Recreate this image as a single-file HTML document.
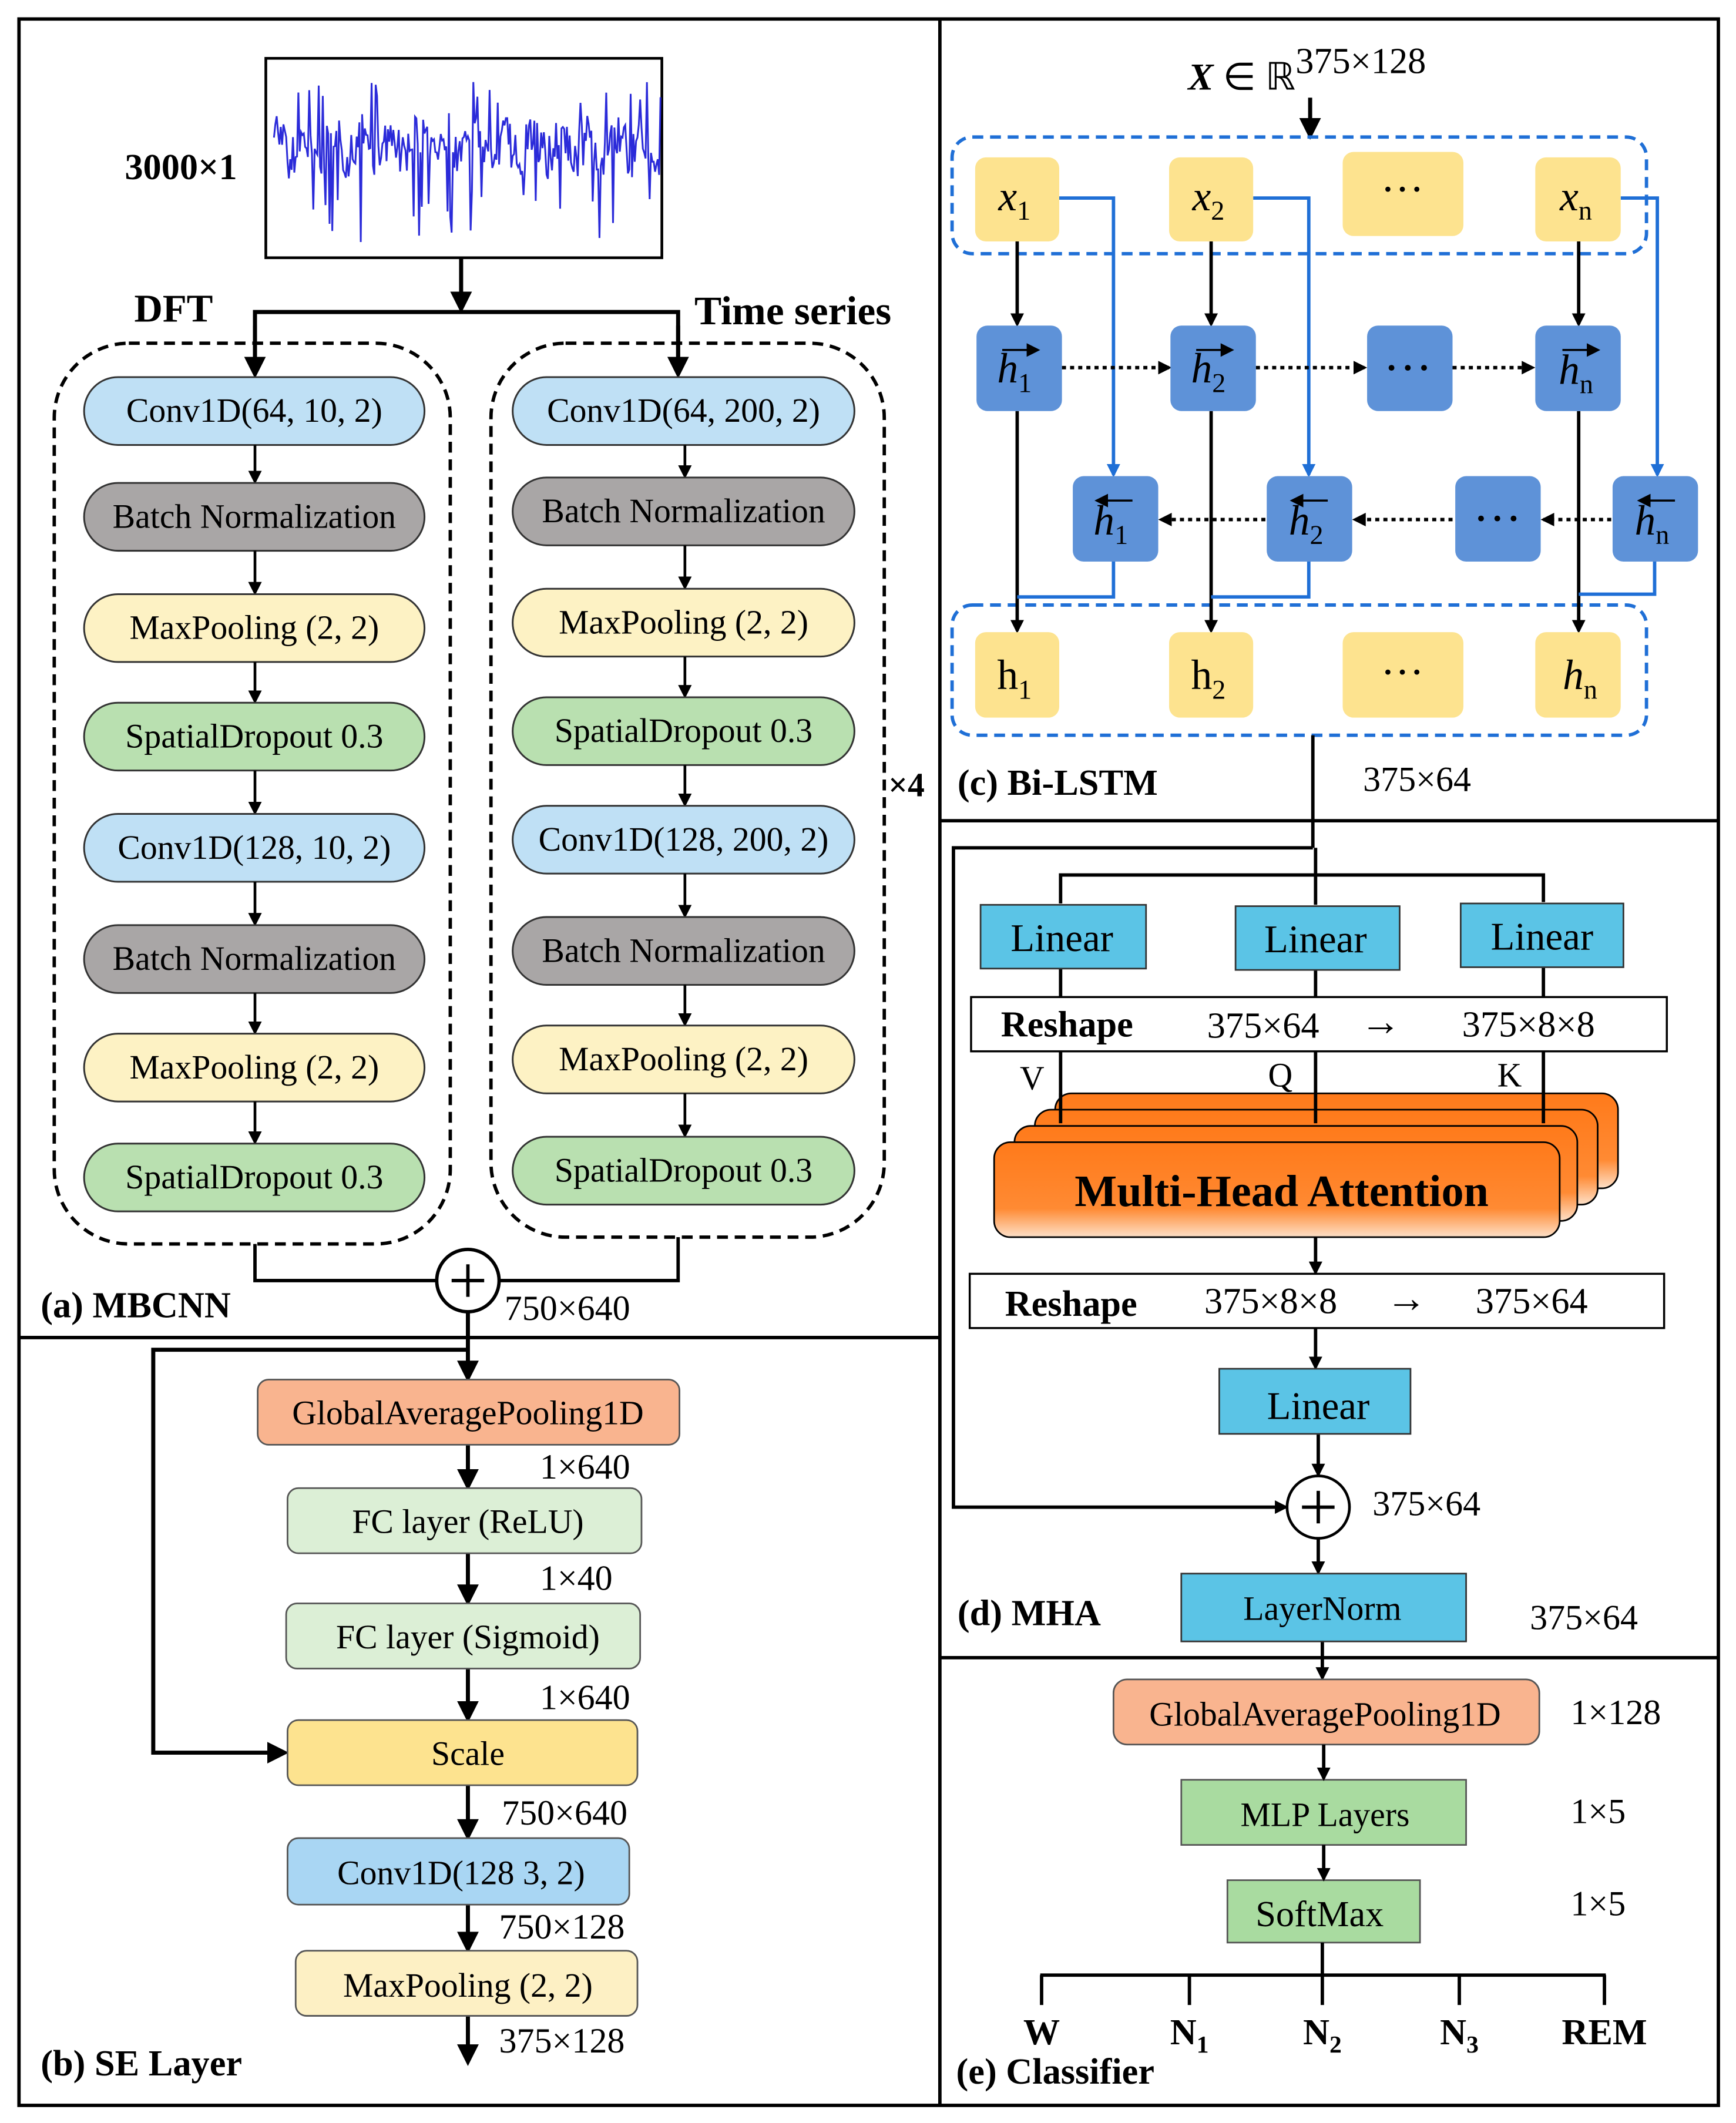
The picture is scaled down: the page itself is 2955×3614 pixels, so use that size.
<!DOCTYPE html>
<html><head><meta charset="utf-8"><style>
html,body{margin:0;padding:0;background:#fff;}
svg{display:block;}
text{font-family:"Liberation Serif",serif;}
</style></head><body>
<svg id="s" width="2955" height="3614" viewBox="0 0 1280 1565" preserveAspectRatio="none" xmlns="http://www.w3.org/2000/svg">
<defs>
<marker id="a" markerWidth="10" markerHeight="10" refX="8" refY="5" orient="auto" markerUnits="userSpaceOnUse"><path d="M0,0 L10,5 L0,10 z" fill="#000"/></marker>
<marker id="ab" markerWidth="10" markerHeight="10" refX="8" refY="5" orient="auto" markerUnits="userSpaceOnUse"><path d="M0,0 L10,5 L0,10 z" fill="#1f6fd6"/></marker>
<marker id="aL" markerWidth="16" markerHeight="16" refX="13" refY="8" orient="auto" markerUnits="userSpaceOnUse"><path d="M0,0 L16,8 L0,16 z" fill="#000"/></marker>
<linearGradient id="og" x1="0" y1="0" x2="0" y2="1"><stop offset="0" stop-color="#ff7a1a"/><stop offset="0.7" stop-color="#ff8a33"/><stop offset="1" stop-color="#fde0c8"/></linearGradient>
</defs>
<rect x="0" y="0" width="1280" height="1565" fill="#fff"/>
<g fill="none" stroke="#000" stroke-width="2.5">
<rect x="14" y="14" width="1253" height="1538"/>
<line x1="693" y1="14" x2="693" y2="1552"/>
<line x1="14" y1="986" x2="693" y2="986"/>
<line x1="693" y1="605" x2="1267" y2="605"/>
<line x1="693" y1="1222" x2="1267" y2="1222"/>
</g>

<!-- Panel a -->
<rect x="196" y="43" width="292" height="147" fill="#fff" stroke="#000" stroke-width="2"/>
<polyline id="sig" fill="none" stroke="#2b2bd9" stroke-width="1.3" points=""/>
<text x="92" y="132" font-size="27" font-weight="bold">3000×1</text>
<text x="99" y="237" font-size="29" font-weight="bold">DFT</text>
<text x="512" y="239" font-size="30" font-weight="bold">Time series</text>
<g stroke="#000" stroke-width="3" fill="none">
<line x1="340" y1="190" x2="340" y2="228" marker-end="url(#aL)"/>
<polyline points="188,275 188,230 500,230 500,275"/>
<line x1="188" y1="240" x2="188" y2="276" marker-end="url(#aL)"/>
<line x1="500" y1="240" x2="500" y2="276" marker-end="url(#aL)"/>
</g>
<rect x="40" y="253" width="292" height="664" rx="55" fill="none" stroke="#000" stroke-width="2.5" stroke-dasharray="8,5"/>
<rect x="362" y="253" width="290" height="659" rx="55" fill="none" stroke="#000" stroke-width="2.5" stroke-dasharray="8,5"/>
<g id="boxesA" font-size="25" text-anchor="middle"></g>
<text x="655" y="587" font-size="25" font-weight="bold">×4</text>
<g stroke="#000" stroke-width="2.5" fill="none">
<polyline points="188,917 188,944 322,944"/>
<polyline points="500,912 500,944 368,944"/>
<circle cx="345" cy="944" r="23" fill="#fff"/>
<line x1="333" y1="944" x2="357" y2="944"/><line x1="345" y1="932" x2="345" y2="956"/>
</g>
<text x="372" y="973" font-size="26">750×640</text>
<text x="30" y="971" font-size="27" font-weight="bold">(a) MBCNN</text>

<!-- Panel b -->
<g stroke="#000" stroke-width="3" fill="none">
<line x1="345" y1="967" x2="345" y2="1016" marker-end="url(#aL)"/>
<polyline points="345,995 113,995 113,1292 210,1292" marker-end="url(#aL)"/>
<line x1="345" y1="1065" x2="345" y2="1096" marker-end="url(#aL)"/>
<line x1="345" y1="1145" x2="345" y2="1181" marker-end="url(#aL)"/>
<line x1="345" y1="1230" x2="345" y2="1267" marker-end="url(#aL)"/>
<line x1="345" y1="1316" x2="345" y2="1354" marker-end="url(#aL)"/>
<line x1="345" y1="1404" x2="345" y2="1437" marker-end="url(#aL)"/>
<line x1="345" y1="1486" x2="345" y2="1520" marker-end="url(#aL)"/>
</g>
<g stroke="#555" stroke-width="1.2">
<rect x="190" y="1017" width="311" height="48" rx="8" fill="#f9b48f"/>
<rect x="212" y="1097" width="261" height="48" rx="8" fill="#dcefd6"/>
<rect x="211" y="1182" width="261" height="48" rx="8" fill="#dcefd6"/>
<rect x="212" y="1268" width="258" height="48" rx="8" fill="#fde38f"/>
<rect x="212" y="1355" width="252" height="49" rx="8" fill="#a9d6f3"/>
<rect x="218" y="1438" width="252" height="48" rx="8" fill="#fdf0c4"/>
</g>
<g font-size="25" text-anchor="middle">
<text x="345" y="1050">GlobalAveragePooling1D</text>
<text x="345" y="1130">FC layer (ReLU)</text>
<text x="345" y="1215">FC layer (Sigmoid)</text>
<text x="345" y="1301">Scale</text>
<text x="340" y="1389">Conv1D(128 3, 2)</text>
<text x="345" y="1472">MaxPooling (2, 2)</text>
</g>
<g font-size="26">
<text x="398" y="1090">1×640</text><text x="398" y="1172">1×40</text><text x="398" y="1260">1×640</text>
<text x="370" y="1345">750×640</text><text x="368" y="1429">750×128</text><text x="368" y="1513">375×128</text>
</g>
<text x="30" y="1530" font-size="27" font-weight="bold">(b) SE Layer</text>

<!-- Panel c -->
<text x="876" y="66" font-size="28"><tspan font-weight="bold" font-style="italic">X</tspan> ∈ ℝ<tspan dy="-12" font-size="27">375×128</tspan></text>
<line x1="966" y1="72" x2="966" y2="100" stroke="#000" stroke-width="3" marker-end="url(#aL)"/>
<rect x="702" y="101" width="512" height="86" rx="15" fill="none" stroke="#1f6fd6" stroke-width="2.5" stroke-dasharray="8,5"/>
<rect x="702" y="446" width="512" height="96" rx="15" fill="none" stroke="#1f6fd6" stroke-width="2.5" stroke-dasharray="8,5"/>
<g id="lstm"></g>
<line x1="968" y1="542" x2="968" y2="625" stroke="#000" stroke-width="2.5"/>
<text x="706" y="586" font-size="27" font-weight="bold">(c) Bi-LSTM</text>
<text x="1005" y="583" font-size="26">375×64</text>

<!-- Panel d -->
<g stroke="#000" stroke-width="2.5" fill="none">
<polyline points="968,625 703,625 703,1111 948,1111" marker-end="url(#a)"/>
<polyline points="782,666 782,645 1138,645 1138,665"/>
<line x1="970" y1="625" x2="970" y2="667"/>
<line x1="782" y1="714" x2="782" y2="828" marker-end="url(#a)"/>
<line x1="970" y1="715" x2="970" y2="828" marker-end="url(#a)"/>
<line x1="1138" y1="713" x2="1138" y2="828" marker-end="url(#a)"/>
</g>
<g stroke="#333" stroke-width="1.2">
<rect x="723" y="667" width="122" height="47" fill="#5bc4e6"/>
<rect x="911" y="668" width="121" height="47" fill="#5bc4e6"/>
<rect x="1077" y="666" width="120" height="47" fill="#5bc4e6"/>
</g>
<g font-size="29" text-anchor="middle"><text x="783" y="701">Linear</text><text x="970" y="702">Linear</text><text x="1137" y="700">Linear</text></g>
<rect x="716" y="735" width="513" height="40" fill="#fff" stroke="#000" stroke-width="1.5"/>
<text x="738" y="764" font-size="27" font-weight="bold">Reshape</text>
<text x="890" y="765" font-size="27">375×64</text><text x="1003" y="763" font-size="30">→</text><text x="1078" y="764" font-size="27">375×8×8</text>
<text x="752" y="803" font-size="25">V</text><text x="935" y="801" font-size="25">Q</text><text x="1104" y="801" font-size="25">K</text>
<g stroke="#000" stroke-width="1.2" fill="url(#og)">
<rect x="778" y="806" width="415" height="70" rx="12"/>
<rect x="763" y="818" width="415" height="70" rx="12"/>
<rect x="748" y="830" width="415" height="70" rx="12"/>
<rect x="733" y="842" width="417" height="70" rx="12"/>
</g>
<g stroke="#000" stroke-width="2.5"><line x1="782" y1="806" x2="782" y2="828"/><line x1="970" y1="806" x2="970" y2="828"/><line x1="1138" y1="806" x2="1138" y2="828"/></g>
<text x="945" y="889" font-size="33" font-weight="bold" text-anchor="middle">Multi-Head Attention</text>
<g stroke="#000" stroke-width="2.5" fill="none">
<line x1="970" y1="912" x2="970" y2="938" marker-end="url(#a)"/>
<line x1="970" y1="979" x2="970" y2="1008" marker-end="url(#a)"/>
<line x1="972" y1="1057" x2="972" y2="1087" marker-end="url(#a)"/>
<line x1="972" y1="1134" x2="972" y2="1159" marker-end="url(#a)"/>
<line x1="975" y1="1210" x2="975" y2="1237" marker-end="url(#a)"/>
</g>
<rect x="715" y="939" width="512" height="40" fill="#fff" stroke="#000" stroke-width="1.5"/>
<text x="741" y="970" font-size="27" font-weight="bold">Reshape</text>
<text x="888" y="968" font-size="27">375×8×8</text><text x="1022" y="967" font-size="30">→</text><text x="1088" y="968" font-size="27">375×64</text>
<rect x="899" y="1009" width="141" height="48" fill="#5bc4e6" stroke="#333" stroke-width="1.2"/>
<text x="972" y="1046" font-size="29" text-anchor="middle">Linear</text>
<circle cx="972" cy="1111" r="23" fill="#fff" stroke="#000" stroke-width="2"/>
<g stroke="#000" stroke-width="2.5"><line x1="960" y1="1111" x2="984" y2="1111"/><line x1="972" y1="1099" x2="972" y2="1123"/></g>
<text x="1012" y="1117" font-size="26">375×64</text>
<rect x="871" y="1160" width="210" height="50" fill="#5bc4e6" stroke="#333" stroke-width="1.2"/>
<text x="975" y="1194" font-size="25" text-anchor="middle">LayerNorm</text>
<text x="706" y="1198" font-size="27" font-weight="bold">(d) MHA</text>
<text x="1128" y="1201" font-size="26">375×64</text>

<!-- Panel e -->
<g stroke="#555" stroke-width="1.2">
<rect x="821" y="1238" width="314" height="48" rx="10" fill="#f9b48f"/>
<rect x="871" y="1312" width="210" height="48" fill="#a9dba0"/>
<rect x="905" y="1386" width="142" height="46" fill="#a9dba0"/>
</g>
<g font-size="25" text-anchor="middle">
<text x="977" y="1272">GlobalAveragePooling1D</text>
<text x="977" y="1346">MLP Layers</text>
<text x="973" y="1420" font-size="27">SoftMax</text>
</g>
<g stroke="#000" stroke-width="2.5" fill="none">
<line x1="976" y1="1286" x2="976" y2="1311" marker-end="url(#a)"/>
<line x1="976" y1="1360" x2="976" y2="1385" marker-end="url(#a)"/>
<line x1="975" y1="1432" x2="975" y2="1478"/>
<line x1="767" y1="1456" x2="1184" y2="1456"/>
<line x1="768" y1="1456" x2="768" y2="1478"/><line x1="877" y1="1456" x2="877" y2="1478"/>
<line x1="1076" y1="1456" x2="1076" y2="1478"/><line x1="1183" y1="1456" x2="1183" y2="1478"/>
</g>
<g font-size="26"><text x="1158" y="1271">1×128</text><text x="1158" y="1344">1×5</text><text x="1158" y="1412">1×5</text></g>
<g font-size="27" font-weight="bold" text-anchor="middle">
<text x="768" y="1507">W</text>
<text x="877" y="1507">N<tspan font-size="18" dy="6">1</tspan></text>
<text x="975" y="1507">N<tspan font-size="18" dy="6">2</tspan></text>
<text x="1076" y="1507">N<tspan font-size="18" dy="6">3</tspan></text>
<text x="1183" y="1507">REM</text>
</g>
<text x="705" y="1536" font-size="27" font-weight="bold">(e) Classifier</text>
</svg>
<script>
var NS="http://www.w3.org/2000/svg";
function el(p,t,a,txt){var e=document.createElementNS(NS,t);for(var k in a)e.setAttribute(k,a[k]);if(txt!=null)e.textContent=txt;p.appendChild(e);return e;}
var pts=[],seed=7;function rnd(){seed=(seed*9301+49297)%233280;return seed/233280;}
for(var x=202;x<=487;x+=1.0){var y=108+(rnd()-0.5)*34+Math.sin(x*0.3)*8;if(rnd()<0.07)y=140+rnd()*40;if(rnd()<0.05)y=60+rnd()*20;pts.push(x.toFixed(1)+","+y.toFixed(1));}
document.getElementById("sig").setAttribute("points",pts.join(" "));
var g=document.getElementById("boxesA");
var col={c:"#bfe0f5",b:"#a9a6a6",m:"#fdf2c4",s:"#b9e0b0"};
var L=[["c",278,"Conv1D(64, 10, 2)"],["b",356,"Batch Normalization"],["m",438,"MaxPooling (2, 2)"],["s",518,"SpatialDropout 0.3"],["c",600,"Conv1D(128, 10, 2)"],["b",682,"Batch Normalization"],["m",762,"MaxPooling (2, 2)"],["s",843,"SpatialDropout 0.3"]];
var R=[["c",278,"Conv1D(64, 200, 2)"],["b",352,"Batch Normalization"],["m",434,"MaxPooling (2, 2)"],["s",514,"SpatialDropout 0.3"],["c",594,"Conv1D(128, 200, 2)"],["b",676,"Batch Normalization"],["m",756,"MaxPooling (2, 2)"],["s",838,"SpatialDropout 0.3"]];
function col2(list,x,w,cx){for(var i=0;i<list.length;i++){var b=list[i];el(g,"rect",{x:x,y:b[1],width:w,height:50,rx:25,fill:col[b[0]],stroke:"#333","stroke-width":1.3});el(g,"text",{x:x+w/2,y:b[1]+33},b[2]);
if(i<list.length-1){el(g,"line",{x1:cx,y1:b[1]+50,x2:cx,y2:list[i+1][1]-1,stroke:"#000","stroke-width":2,"marker-end":"url(#a)"});}}}
col2(L,62,251,188);col2(R,378,252,505);
var l=document.getElementById("lstm");
function box(x,y,w,h,f){el(l,"rect",{x:x,y:y,width:w,height:h,rx:8,fill:f});}
function line(a,m,c){var p={points:a,fill:"none",stroke:c||"#000","stroke-width":2.5};if(m)p["marker-end"]=m;el(l,"polyline",p);}
function dline(x1,x2,y){el(l,"line",{x1:x1,y1:y,x2:x2,y2:y,stroke:"#000","stroke-width":2.5,"stroke-dasharray":"3,3","marker-end":"url(#a)"});}
var Y="#fde38f",B="#5e92d8";
var xs=[750,893,1164];
for(var i=0;i<3;i++){line(xs[i]+",178 "+xs[i]+",239","url(#a)");line(xs[i]+",303 "+xs[i]+",465","url(#a)");}
line("781,146 821,146 821,350","url(#ab)","#1f6fd6");line("924,146 965,146 965,350","url(#ab)","#1f6fd6");line("1195,146 1222,146 1222,350","url(#ab)","#1f6fd6");
line("821,414 821,440 750,440","","#1f6fd6");line("965,414 965,440 893,440","","#1f6fd6");line("1220,414 1220,438 1164,438","","#1f6fd6");
dline(783,862,271);dline(926,1006,271);dline(1071,1130,271);
dline(933,856,383);dline(1071,999,383);dline(1188,1138,383);
box(719,116,62,62,Y);box(862,116,62,62,Y);box(990,112,89,62,Y);box(1132,116,63,62,Y);
box(720,240,63,63,B);box(863,240,63,63,B);box(1008,240,63,63,B);box(1132,240,63,63,B);
box(791,351,63,63,B);box(934,351,63,63,B);box(1073,351,63,63,B);box(1189,351,63,63,B);
box(719,466,62,63,Y);box(862,466,62,63,Y);box(990,466,89,63,Y);box(1132,466,63,63,Y);
function t(x,y,s,sub,fs,it){var e=el(l,"text",{x:x,y:y,"font-size":fs||30,"text-anchor":"middle","font-style":it?"italic":"normal"});var a=document.createElementNS(NS,"tspan");a.textContent=s;e.appendChild(a);if(sub){var b=document.createElementNS(NS,"tspan");b.setAttribute("font-size","20");b.setAttribute("dy","7");b.setAttribute("font-style","normal");b.textContent=sub;e.appendChild(b);}}
t(748,155,"x","1",31,1);t(891,155,"x","2",31,1);t(1034,150,"···","",32);t(1162,155,"x","n",31,1);
t(748,282,"h","1",31,1);t(891,282,"h","2",31,1);t(1038,283,"···","",36);t(1162,283,"h","n",31,1);
t(819,394,"h","1",31,1);t(963,394,"h","2",31,1);t(1104,394,"···","",36);t(1218,394,"h","n",31,1);
t(748,508,"h","1",31,0);t(891,508,"h","2",31,0);t(1034,506,"···","",32);t(1165,508,"h","n",31,1);
function ov(x,y,dir){var x1=x-13,x2=x+13;el(l,"line",{x1:dir>0?x1:x2,y1:y,x2:dir>0?x2:x1,y2:y,stroke:"#000","stroke-width":1.5,"marker-end":"url(#a)"});}
ov(752,258,1);ov(895,258,1);ov(1165,258,1);ov(822,369,-1);ov(966,369,-1);ov(1222,369,-1);
</script>
</body></html>
